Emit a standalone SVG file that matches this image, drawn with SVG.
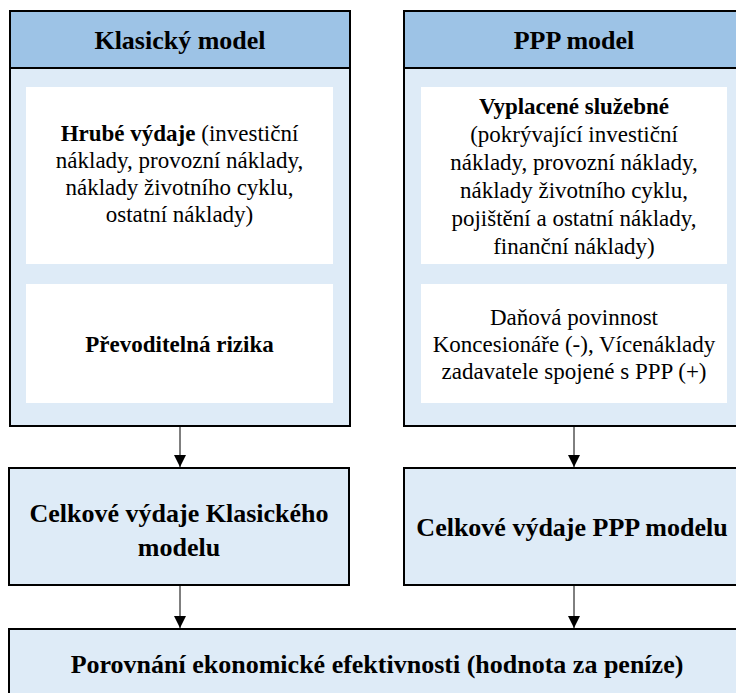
<svg xmlns="http://www.w3.org/2000/svg" width="736" height="693" viewBox="0 0 736 693">
<style>
.outer{fill:#DEEBF7;stroke:#000;stroke-width:2}
.head{fill:#9DC3E6;stroke:#000;stroke-width:2}
.white{fill:#fff}
.conn{stroke:#000;stroke-width:1;fill:none}
</style>
<defs>
<marker id="ah" viewBox="0 0 12 12" refX="12" refY="6" markerWidth="12" markerHeight="12" markerUnits="userSpaceOnUse" orient="auto">
<path d="M0,0 L12,6 L0,12 Z" fill="#000"/>
</marker>
</defs>
<rect width="736" height="693" fill="#fff"/>
<g id="klasicky">
<rect class="outer" x="10" y="11" width="340" height="415"/>
<rect class="head" x="10" y="11" width="340" height="57"/>
<text font-family="Liberation Serif" font-size="26" font-weight="bold" text-anchor="middle" x="180" y="49">Klasický model</text>
<rect class="white" x="26" y="87" width="307" height="177"/>
<text font-family="Liberation Serif" font-size="23" text-anchor="middle" x="179.5" y="141"><tspan font-weight="bold">Hrubé výdaje</tspan> (investiční</text>
<text font-family="Liberation Serif" font-size="23" text-anchor="middle" x="179.5" y="168">náklady, provozní náklady,</text>
<text font-family="Liberation Serif" font-size="23" text-anchor="middle" x="179.5" y="195">náklady životního cyklu,</text>
<text font-family="Liberation Serif" font-size="23" text-anchor="middle" x="179.5" y="222">ostatní náklady)</text>
<rect class="white" x="26" y="284" width="307" height="119"/>
<text font-family="Liberation Serif" font-size="23" font-weight="bold" text-anchor="middle" x="179.5" y="352">Převoditelná rizika</text>
</g>
<g id="ppp">
<rect class="outer" x="404" y="11" width="340" height="415"/>
<rect class="head" x="404" y="11" width="340" height="57"/>
<text font-family="Liberation Serif" font-size="26" font-weight="bold" text-anchor="middle" x="574" y="49">PPP model</text>
<rect class="white" x="421" y="87" width="306" height="177"/>
<text font-family="Liberation Serif" font-size="23" font-weight="bold" text-anchor="middle" x="574" y="114">Vyplacené služebné</text>
<text font-family="Liberation Serif" font-size="23" text-anchor="middle" x="574" y="142">(pokrývající investiční</text>
<text font-family="Liberation Serif" font-size="23" text-anchor="middle" x="574" y="170">náklady, provozní náklady,</text>
<text font-family="Liberation Serif" font-size="23" text-anchor="middle" x="574" y="198">náklady životního cyklu,</text>
<text font-family="Liberation Serif" font-size="23" text-anchor="middle" x="574" y="226">pojištění a ostatní náklady,</text>
<text font-family="Liberation Serif" font-size="23" text-anchor="middle" x="574" y="254">finanční náklady)</text>
<rect class="white" x="421" y="284" width="306" height="119"/>
<text font-family="Liberation Serif" font-size="23" text-anchor="middle" x="574" y="325">Daňová povinnost</text>
<text font-family="Liberation Serif" font-size="23" text-anchor="middle" x="574" y="352">Koncesionáře (-), Vícenáklady</text>
<text font-family="Liberation Serif" font-size="23" text-anchor="middle" x="574" y="379">zadavatele spojené s PPP (+)</text>
</g>
<g id="celkove-klasicky">
<rect class="outer" x="9" y="468" width="340" height="117"/>
<text font-family="Liberation Serif" font-size="26" font-weight="bold" text-anchor="middle" x="179" y="522">Celkové výdaje Klasického</text>
<text font-family="Liberation Serif" font-size="26" font-weight="bold" text-anchor="middle" x="179" y="556">modelu</text>
</g>
<g id="celkove-ppp">
<rect class="outer" x="404" y="468" width="340" height="117"/>
<text font-family="Liberation Serif" font-size="26" font-weight="bold" text-anchor="middle" x="572" y="536">Celkové výdaje PPP modelu</text>
</g>
<g id="porovnani">
<rect class="outer" x="9" y="629" width="740" height="70"/>
<text font-family="Liberation Serif" font-size="26" font-weight="bold" text-anchor="middle" x="377" y="673">Porovnání ekonomické efektivnosti (hodnota za peníze)</text>
</g>
<g id="connectors">
<line class="conn" x1="180" y1="427" x2="180" y2="467" marker-end="url(#ah)"/>
<line class="conn" x1="574" y1="427" x2="574" y2="467" marker-end="url(#ah)"/>
<line class="conn" x1="180" y1="586" x2="180" y2="628" marker-end="url(#ah)"/>
<line class="conn" x1="574" y1="586" x2="574" y2="628" marker-end="url(#ah)"/>
</g>
</svg>
